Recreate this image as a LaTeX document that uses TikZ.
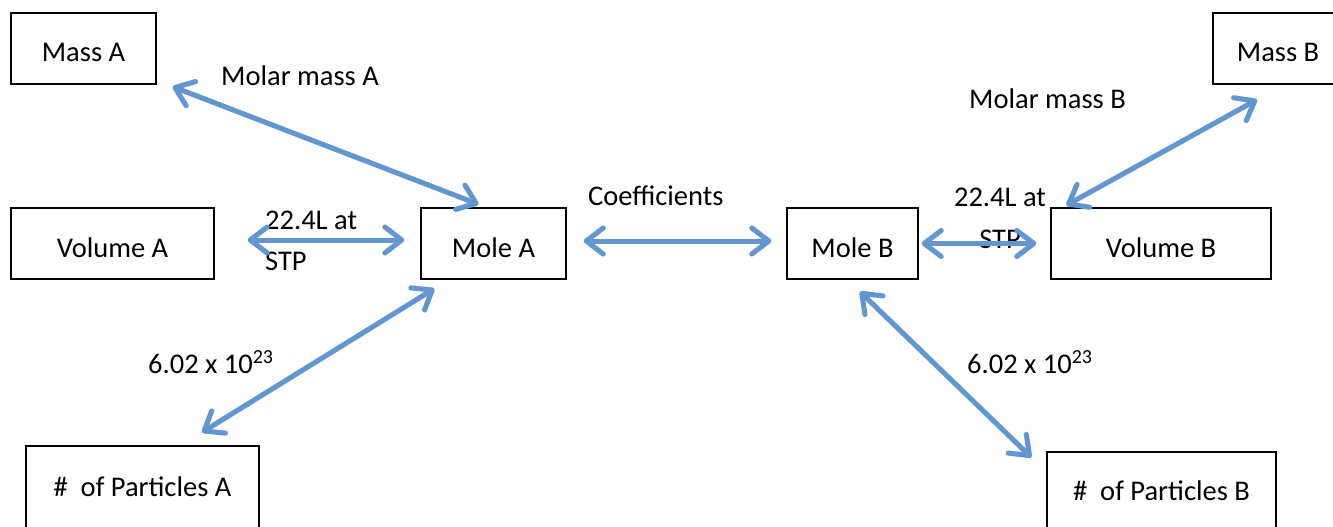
\documentclass[tikz,border=0pt]{standalone}
\usepackage{fontspec}
\setmainfont{Carlito}
\usetikzlibrary{arrows.meta}
\definecolor{arrowblue}{RGB}{99,149,206}
\begin{document}
\begin{tikzpicture}[x=1pt,y=-1pt,
  box/.style={draw=black,line width=1.4pt,inner sep=0pt,font=\fontsize{28.5}{34}\selectfont},
  mainbox/.style={box,minimum height=71pt,text height=27pt,text depth=0pt},
  lbl/.style={inner sep=0pt,font=\fontsize{28.5}{34}\selectfont},
  conn/.style={draw=arrowblue,line width=5pt,
    {Straight Barb[length=17pt,width=26pt,round]}-{Straight Barb[length=17pt,width=26pt,round]}},
  shad/.style={draw=black!35,opacity=0.35,line width=5pt,
    {Straight Barb[length=17pt,width=26pt,round]}-{Straight Barb[length=17pt,width=26pt,round]}}]
\useasboundingbox (0,0) rectangle (1333,527);
\fill[white] (0,0) rectangle (1333,527);

% boxes
\node[mainbox,minimum width=145pt] (massA) at (83.5,48.5) {Mass A};
\node[mainbox,minimum width=130pt] (massB) at (1278,48.5) {Mass B};
\node[mainbox,minimum width=203pt] (volA) at (112.5,243.5) {Volume A};
\node[mainbox,minimum width=145pt] (moleA) at (493.5,243.5) {Mole A};
\node[mainbox,minimum width=131pt] (moleB) at (852.5,243.5) {Mole B};
\node[mainbox,minimum width=220pt] (volB) at (1161,243.5) {Volume B};
\node[box,minimum width=233pt,minimum height=82pt] (partA) at (142.5,487) {\#\ \ of Particles A};
\node[box,minimum width=229pt,minimum height=78pt] (partB) at (1161.5,491) {\#\ \ of Particles B};

% labels
\node[lbl,anchor=base west] (lmmA) at (221,85) {Molar mass A};
\node[lbl,anchor=base west] (lmmB) at (969,108) {Molar mass B};
\node[lbl,anchor=base west] (lcoef) at (588,205) {Coefficients};
\node[lbl,anchor=base west] (lvA1) at (265,229) {22.4L at};
\node[lbl,anchor=base west] (lvA2) at (265,270) {STP};
\node[lbl,anchor=base] (lvB1) at (1000,206) {22.4L at};
\node[lbl,anchor=base] (lvB2) at (1000,248) {STP};
\node[lbl,anchor=base west] (lpA) at (148,373) {6.02 x 10\textsuperscript{23}};
\node[lbl,anchor=base west] (lpB) at (967,373) {6.02 x 10\textsuperscript{23}};

% connector shadows
\begin{scope}[shift={(1.5,3)}]
\path[shad] ([shift={(16,2)}]massA.south east) -- ([shift={(-15,-3)}]moleA.north);
\path[shad] ([shift={(33,-3.5)}]volA.east) -- ([shift={(-16,-3.5)}]moleA.west);
\path[shad] ([shift={(14,9)}]moleA.south west) -- ([shift={(59.5,-13)}]partA.north);
\path[shad] ([shift={(17,-2.5)}]moleA.east) -- ([shift={(-15,-2.5)}]moleB.west);
\path[shad] ([shift={(3,0)}]moleB.east) -- ([shift={(-14,0)}]volB.west);
\path[shad] ([shift={(7.5,12)}]moleB.south) -- ([shift={(-15,6)}]partB.north west);
\path[shad] ([shift={(16,-2)}]volB.north west) -- ([shift={(-21,15)}]massB.south);
\end{scope}
% connectors
\path[conn] ([shift={(16,2)}]massA.south east) -- ([shift={(-15,-3)}]moleA.north);
\path[conn] ([shift={(33,-3.5)}]volA.east) -- ([shift={(-16,-3.5)}]moleA.west);
\path[conn] ([shift={(14,9)}]moleA.south west) -- ([shift={(59.5,-13)}]partA.north);
\path[conn] ([shift={(17,-2.5)}]moleA.east) -- ([shift={(-15,-2.5)}]moleB.west);
\path[conn] ([shift={(3,0)}]moleB.east) -- ([shift={(-14,0)}]volB.west);
\path[conn] ([shift={(7.5,12)}]moleB.south) -- ([shift={(-15,6)}]partB.north west);
\path[conn] ([shift={(16,-2)}]volB.north west) -- ([shift={(-21,15)}]massB.south);
\end{tikzpicture}
\end{document}
